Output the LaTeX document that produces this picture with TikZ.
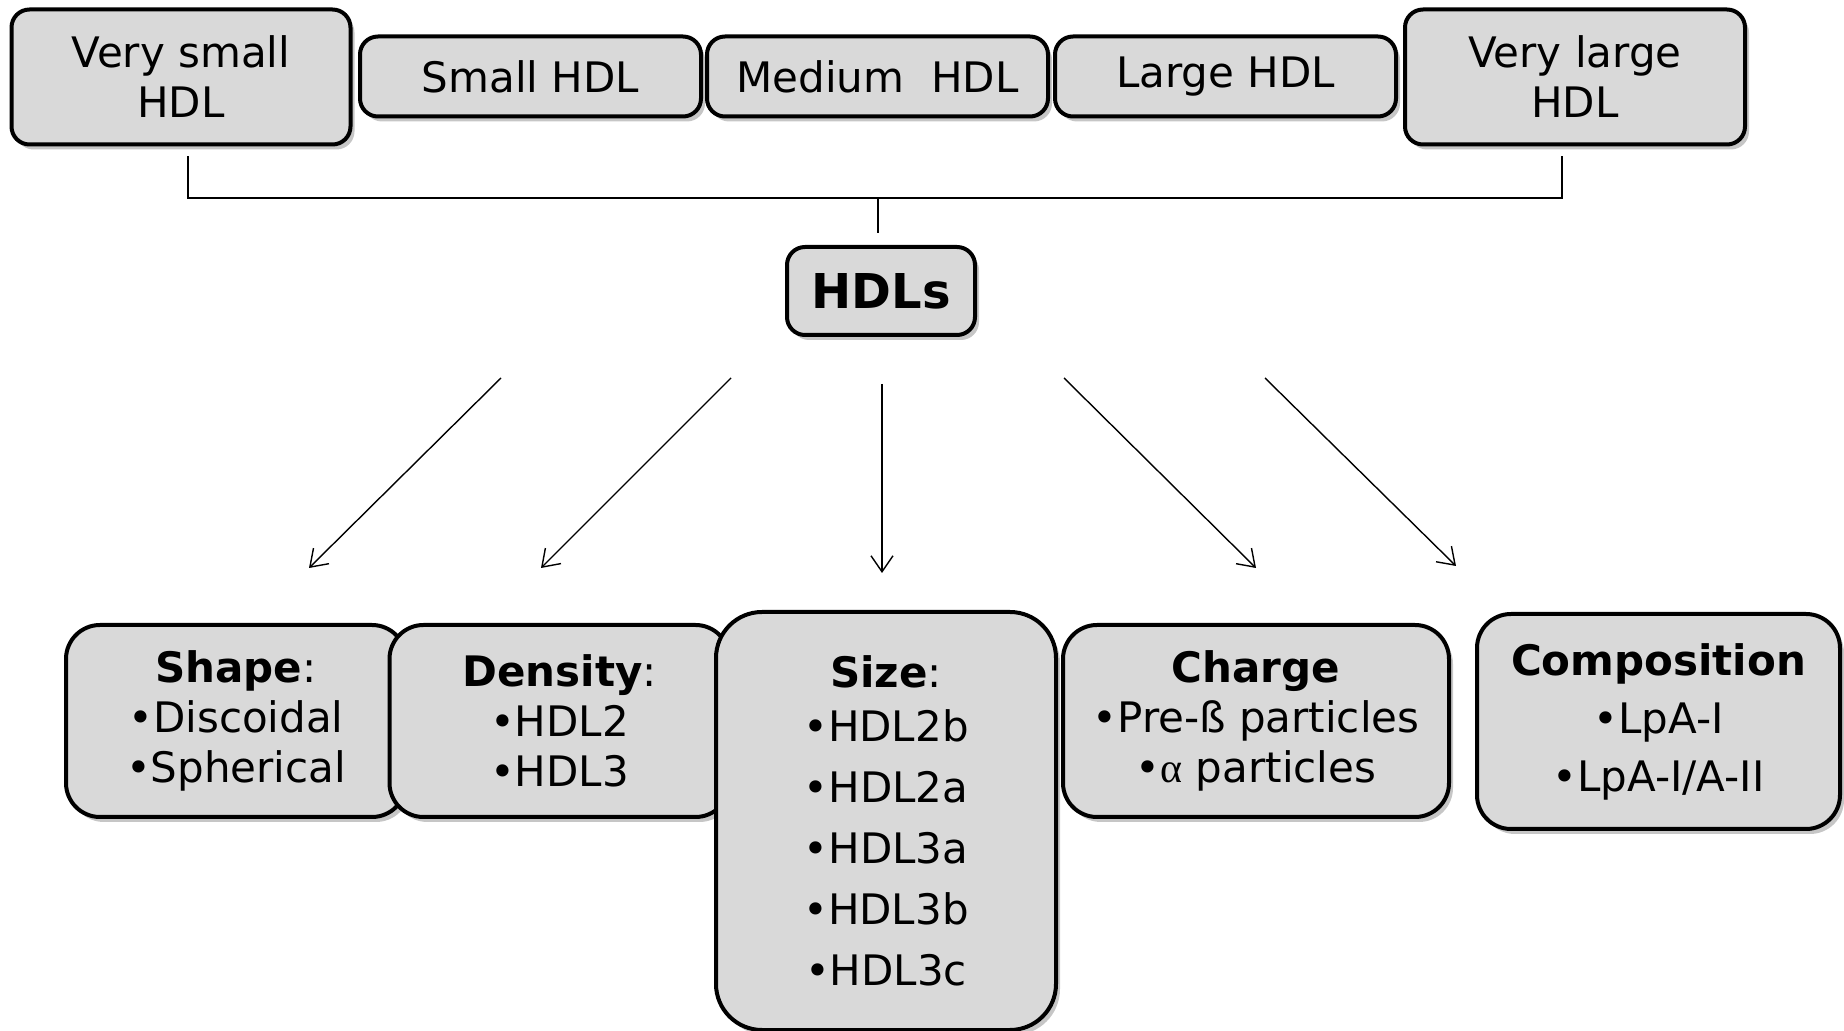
\documentclass[tikz,border=0pt]{standalone}
\usepackage{fontspec}
\setmainfont{DejaVu Sans}
\newfontfamily\greekfont{Liberation Serif}
\usetikzlibrary{shadows,arrows.meta}
\definecolor{boxgray}{HTML}{D9D9D9}

\begin{document}
\begin{tikzpicture}[x=0.5pt,y=-0.5pt,
  box/.style={draw=black,line width=2pt,fill=boxgray,align=center,inner sep=0pt,
    drop shadow={opacity=0.45,shadow xshift=2pt,shadow yshift=-2.5pt},
    font=\fontsize{21}{25}\selectfont},
  topbox/.style={box,rounded corners=9pt},
  catbox/.style={box,rounded corners=17pt,minimum width=170pt,minimum height=96pt},
  bracket/.style={line width=0.6pt},
  arr/.style={line width=0.7pt,-{Straight Barb[length=8pt,width=11pt]}}]
  \useasboundingbox (0,0) rectangle (1844,1031);

  \node[topbox,minimum width=169.5pt,minimum height=67.5pt] (vsmall) at (181,77) {Very small\\HDL};
  \node[topbox,minimum width=170.5pt,minimum height=40pt] (small) at (530.5,76.5) {Small HDL};
  \node[topbox,minimum width=170.5pt,minimum height=40pt] (medium) at (877.5,76.5) {Medium\ \ HDL};
  \node[topbox,minimum width=170.5pt,minimum height=40pt] (large) at (1225.5,76.5) {Large HDL};
  \node[topbox,minimum width=170pt,minimum height=67.5pt] (vlarge) at (1575,77) {Very large\\HDL};

  \node[topbox,minimum width=94pt,minimum height=44pt,font=\fontsize{24}{28}\selectfont\bfseries] (hdls) at (881,291) {HDLs};

  \coordinate (brk) at (878,198);
  \draw[bracket] ([xshift=3.5pt,yshift=-5pt]vsmall.south) |- (brk) -| ([xshift=-6.5pt,yshift=-5pt]vlarge.south);
  \draw[bracket] (brk) -- ([yshift=6pt]brk |- hdls.north);

  \node[catbox] (shape) at (236,721) {\textbf{Shape}:\\•Discoidal\\•Spherical};
  \node[catbox] (density) at (559.5,721) {\textbf{Density}:\\•HDL2\\•HDL3};
  \node[catbox,rounded corners=23pt,minimum height=209pt] (size) at (886,821)
    {\textbf{Size}:\\[2pt]•HDL2b\\[5.5pt]•HDL2a\\[5.5pt]•HDL3a\\[5.5pt]•HDL3b\\[5.5pt]•HDL3c};
  \node[catbox,minimum width=193pt] (charge) at (1256,721) {\textbf{Charge}\\•Pre-ß particles\\•{\greekfont α} particles};
  \node[catbox,minimum width=181.5pt,minimum height=107.5pt] (compo) at (1658.5,721.5)
    {\textbf{Composition}\\[4pt]•LpA-I\\[4pt]•LpA-I/A-II};

  \draw[arr] ([shift={(-380,41)}]hdls.south) -- ([shift={(73,-55)}]shape.north);
  \draw[arr] ([shift={(-150,41)}]hdls.south) -- ([shift={(-18.5,-55)}]density.north);
  \draw[arr] ([shift={(1,47)}]hdls.south) -- ([shift={(-4,-37)}]size.north);
  \draw[arr] ([shift={(183,41)}]hdls.south) -- ([shift={(0,-55)}]charge.north);
  \draw[arr] ([shift={(384,41)}]hdls.south) -- ([shift={(-202.5,-46)}]compo.north);
\end{tikzpicture}
\end{document}
